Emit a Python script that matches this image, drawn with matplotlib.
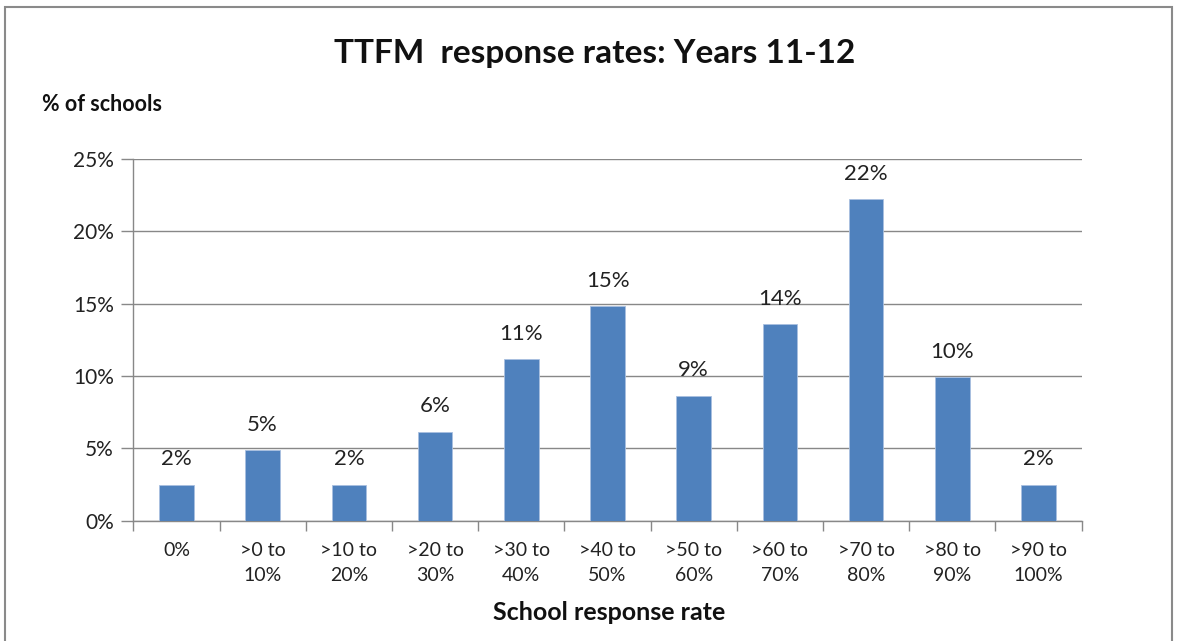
import numpy as np
import matplotlib.pyplot as plt
from matplotlib.patches import Rectangle

plt.rcParams['font.family'] = ['Lato', 'DejaVu Sans']

# data
categories = ['0%', '>0 to\n10%', '>10 to\n20%', '>20 to\n30%', '>30 to\n40%', '>40 to\n50%',
              '>50 to\n60%', '>60 to\n70%', '>70 to\n80%', '>80 to\n90%', '>90 to\n100%']
values = [2.5, 4.9, 2.5, 6.15, 11.15, 14.85, 8.65, 13.6, 22.2, 9.9, 2.5]
labels = ['2%', '5%', '2%', '6%', '11%', '15%', '9%', '14%', '22%', '10%', '2%']

fig = plt.figure(figsize=(11.8, 6.41), dpi=100)
ax = fig.add_axes([0.1130, 0.1877, 0.8037, 0.5643])

grid_col = '#888888'
x = np.arange(len(categories))
ax.bar(x, values, width=0.40, color='#4F81BD', edgecolor='#A9C0E0', linewidth=0.6, zorder=3)

for xi, v, lab in zip(x, values, labels):
    ax.annotate(lab, (xi, v), xytext=(0, 11), textcoords='offset points',
                ha='center', va='bottom', fontsize=16, color='#222222')

ax.set_xlim(-0.5, len(categories) - 0.5)
ax.set_ylim(0, 25)
ax.set_yticks(np.arange(0, 26, 5))
ax.set_yticklabels([f'{t}%' for t in range(0, 26, 5)], fontsize=15, color='#222222')
ax.yaxis.grid(True, color=grid_col, linewidth=1.0, zorder=0)

# category labels between boundary ticks
ax.set_xticks(np.arange(-0.5, len(categories) + 0.5, 1))
ax.set_xticklabels([])
ax.set_xticks(x, minor=True)
ax.set_xticklabels(categories, minor=True, fontsize=14, color='#222222', linespacing=1.6)
ax.tick_params(axis='x', which='minor', length=0, pad=15)
ax.tick_params(axis='x', which='major', length=7, color=grid_col, width=1.0)
ax.tick_params(axis='y', length=9, color=grid_col, width=1.0, pad=5)

for s in ['top', 'right']:
    ax.spines[s].set_visible(False)
for s in ['left', 'bottom']:
    ax.spines[s].set_color(grid_col)
    ax.spines[s].set_linewidth(1.0)

fig.text(0.504, 0.916, 'TTFM  response rates: Years 11-12', ha='center', va='center',
         fontsize=24, fontweight='bold', color='#111111')
fig.text(0.036, 0.837, '% of schools', ha='left', va='center',
         fontsize=15.5, fontweight='bold', color='#111111')
fig.text(0.516, 0.044, 'School response rate', ha='center', va='center',
         fontsize=18, fontweight='bold', color='#111111')

# outer chart frame
fig.patches.append(Rectangle((5 / 1180, -0.05), 1167 / 1180, 1.05 - 7 / 641,
                             transform=fig.transFigure, fill=False,
                             edgecolor='#8a8a8a', linewidth=1.5))

plt.savefig('out.png', dpi=100)
